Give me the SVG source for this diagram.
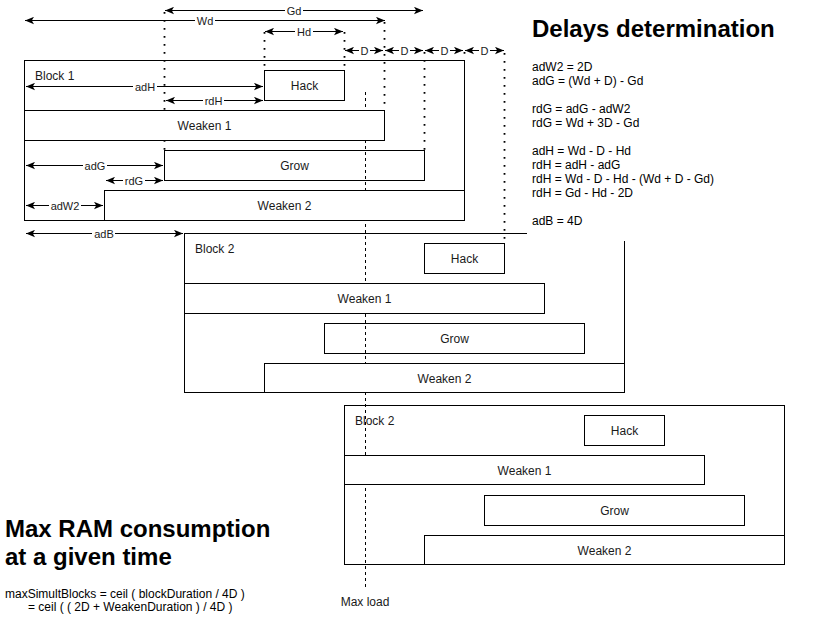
<svg xmlns="http://www.w3.org/2000/svg" width="818" height="635" viewBox="0 0 818 635">
<defs>
<style>
.box{fill:#fff;stroke:#000;stroke-width:1}
.lbl{font-family:"Liberation Sans",Arial,Helvetica,sans-serif;font-size:12px;fill:#1a1a1a;text-anchor:middle}
.blk{font-family:"Liberation Sans",Arial,Helvetica,sans-serif;font-size:12px;fill:#1a1a1a}
.elbl{font-family:"Liberation Sans",Arial,Helvetica,sans-serif;font-size:11px;fill:#1a1a1a;text-anchor:middle}
.lbg{fill:#fff;stroke:none}
.dim{fill:none;stroke:#000;stroke-width:1;marker-start:url(#arr);marker-end:url(#arr)}
.dot{fill:none;stroke:#000;stroke-width:1.8;stroke-dasharray:1.8 6.2}
.dash{fill:none;stroke:#000;stroke-width:1;stroke-dasharray:3 3}
.h1{font-family:"Liberation Sans",Arial,Helvetica,sans-serif;font-size:24px;font-weight:bold;fill:#000}
.p{font-family:"Liberation Sans",Arial,Helvetica,sans-serif;font-size:12px;fill:#000}
</style>
<marker id="arr" viewBox="0 0 9 8" refX="9" refY="4" markerWidth="9" markerHeight="8" markerUnits="userSpaceOnUse" orient="auto-start-reverse">
<path d="M0,0.3 L9,4 L0,7.7 L2.2,4 Z" fill="#000"/>
</marker>
</defs>
<rect width="818" height="635" fill="#fff"/>

<!-- containers -->
<g id="block1">
<rect class="box" x="24.5" y="60.5" width="440" height="160"/>
<text class="blk" x="35" y="80">Block 1</text>
</g>
<g id="block2">
<rect class="box" x="184.5" y="233.5" width="440" height="159"/>
<text class="blk" x="195" y="253">Block 2</text>
</g>
<g id="block3">
<rect class="box" x="344.5" y="405.5" width="440" height="159"/>
</g>

<!-- dotted guide lines -->
<g id="guides">
<line class="dot" x1="164.5" y1="12" x2="164.5" y2="150"/>
<line class="dot" x1="264.5" y1="32" x2="264.5" y2="70"/>
<line class="dot" x1="344.5" y1="32" x2="344.5" y2="70"/>
<line class="dot" x1="384.5" y1="22" x2="384.5" y2="110"/>
<line class="dot" x1="424.5" y1="52" x2="424.5" y2="150"/>
<line class="dot" x1="464.5" y1="52" x2="464.5" y2="60"/>
<line class="dot" x1="504.5" y1="53" x2="504.5" y2="243"/>
</g>

<!-- grow and hack boxes -->
<g id="b1-hack"><rect class="box" x="264.5" y="70.5" width="80" height="30"/><text class="lbl" x="304.5" y="90">Hack</text></g>
<g id="b1-grow"><rect class="box" x="164.5" y="150.5" width="260" height="30"/><text class="lbl" x="294.5" y="170">Grow</text></g>
<g id="b2-hack"><rect class="box" x="424.5" y="243.5" width="80" height="30"/><text class="lbl" x="464.5" y="263">Hack</text></g>
<g id="b2-grow"><rect class="box" x="324.5" y="323.5" width="260" height="30"/><text class="lbl" x="454.5" y="343">Grow</text></g>
<g id="b3-hack"><rect class="box" x="584.5" y="415.5" width="80" height="30"/><text class="lbl" x="624.5" y="435">Hack</text></g>
<g id="b3-grow"><rect class="box" x="484.5" y="495.5" width="260" height="30"/><text class="lbl" x="614.5" y="515">Grow</text></g>

<!-- max load line -->
<g id="maxload">
<line class="dash" x1="365.5" y1="92" x2="365.5" y2="588"/>
<text class="lbl" x="365" y="606">Max load</text>
</g>
<text class="blk" x="355" y="425">Block 2</text>

<!-- weaken boxes -->
<g id="b1-weaken1"><rect class="box" x="24.5" y="110.5" width="360" height="30"/><text class="lbl" x="204.5" y="130">Weaken 1</text></g>
<g id="b1-weaken2"><rect class="box" x="104.5" y="190.5" width="360" height="30"/><text class="lbl" x="284.5" y="210">Weaken 2</text></g>
<g id="b2-weaken1"><rect class="box" x="184.5" y="283.5" width="360" height="30"/><text class="lbl" x="364.5" y="303">Weaken 1</text></g>
<g id="b2-weaken2"><rect class="box" x="264.5" y="363.5" width="360" height="29"/><text class="lbl" x="444.5" y="383">Weaken 2</text></g>
<g id="b3-weaken1"><rect class="box" x="344.5" y="455.5" width="360" height="29"/><text class="lbl" x="524.5" y="475">Weaken 1</text></g>
<g id="b3-weaken2"><rect class="box" x="424.5" y="535.5" width="360" height="29"/><text class="lbl" x="604.5" y="555">Weaken 2</text></g>

<!-- dimension connectors -->
<g id="connectors">
<line class="dim" x1="165" y1="10.5" x2="423" y2="10.5"/>
<rect class="lbg" x="285" y="4.5" width="18" height="12"/><text class="elbl" x="294" y="14.5">Gd</text>
<line class="dim" x1="25" y1="20.5" x2="385" y2="20.5"/>
<rect class="lbg" x="195" y="14.5" width="20" height="12"/><text class="elbl" x="205" y="24.5">Wd</text>
<line class="dim" x1="265" y1="31.5" x2="343" y2="31.5"/>
<rect class="lbg" x="295" y="25.5" width="18" height="12"/><text class="elbl" x="304" y="35.5">Hd</text>

<line class="dim" x1="345" y1="50.5" x2="383" y2="50.5"/>
<rect class="lbg" x="359" y="44.5" width="11" height="12"/><text class="elbl" x="364.5" y="54.5">D</text>
<line class="dim" x1="385" y1="50.5" x2="423" y2="50.5"/>
<rect class="lbg" x="399" y="44.5" width="11" height="12"/><text class="elbl" x="404.5" y="54.5">D</text>
<line class="dim" x1="425" y1="50.5" x2="463" y2="50.5"/>
<rect class="lbg" x="439" y="44.5" width="11" height="12"/><text class="elbl" x="444.5" y="54.5">D</text>
<line class="dim" x1="465" y1="50.5" x2="504" y2="50.5"/>
<rect class="lbg" x="479" y="44.5" width="11" height="12"/><text class="elbl" x="484.5" y="54.5">D</text>

<line class="dim" x1="26" y1="86.5" x2="263" y2="86.5"/>
<rect class="lbg" x="133" y="80.5" width="24" height="12"/><text class="elbl" x="145" y="90.5">adH</text>
<line class="dim" x1="166" y1="100.5" x2="263" y2="100.5"/>
<rect class="lbg" x="203" y="94.5" width="21" height="12"/><text class="elbl" x="213.5" y="104.5">rdH</text>

<line class="dim" x1="26" y1="165.5" x2="163" y2="165.5"/>
<rect class="lbg" x="83" y="159.5" width="24" height="12"/><text class="elbl" x="95" y="169.5">adG</text>
<line class="dim" x1="106" y1="180.5" x2="163" y2="180.5"/>
<rect class="lbg" x="123" y="174.5" width="22" height="12"/><text class="elbl" x="134" y="184.5">rdG</text>
<line class="dim" x1="26" y1="205.5" x2="103" y2="205.5"/>
<rect class="lbg" x="49" y="199.5" width="32" height="12"/><text class="elbl" x="65" y="209.5">adW2</text>
<line class="dim" x1="26" y1="233.5" x2="183" y2="233.5"/>
<rect class="lbg" x="92" y="227.5" width="23" height="12"/><text class="elbl" x="104" y="237.5">adB</text>
</g>

<!-- delays determination text box -->
<g id="delays">
<rect x="527" y="0" width="285" height="241" fill="#fff"/>
<text class="h1" x="532" y="37">Delays determination</text>
<text class="p" x="532" y="71">adW2 = 2D</text>
<text class="p" x="532" y="85">adG = (Wd + D) - Gd</text>
<text class="p" x="532" y="113">rdG = adG - adW2</text>
<text class="p" x="532" y="127">rdG = Wd + 3D - Gd</text>
<text class="p" x="532" y="155">adH = Wd - D - Hd</text>
<text class="p" x="532" y="169">rdH = adH - adG</text>
<text class="p" x="532" y="183">rdH = Wd - D - Hd - (Wd + D - Gd)</text>
<text class="p" x="532" y="197">rdH = Gd - Hd - 2D</text>
<text class="p" x="532" y="225">adB = 4D</text>
</g>

<!-- max RAM text -->
<g id="maxram">
<text class="h1" x="5" y="537">Max RAM consumption</text>
<text class="h1" x="5" y="565">at a given time</text>
<text class="p" x="5" y="598">maxSimultBlocks = ceil ( blockDuration / 4D )</text>
<text class="p" x="28" y="611">= ceil ( ( 2D + WeakenDuration ) / 4D )</text>
</g>
</svg>
